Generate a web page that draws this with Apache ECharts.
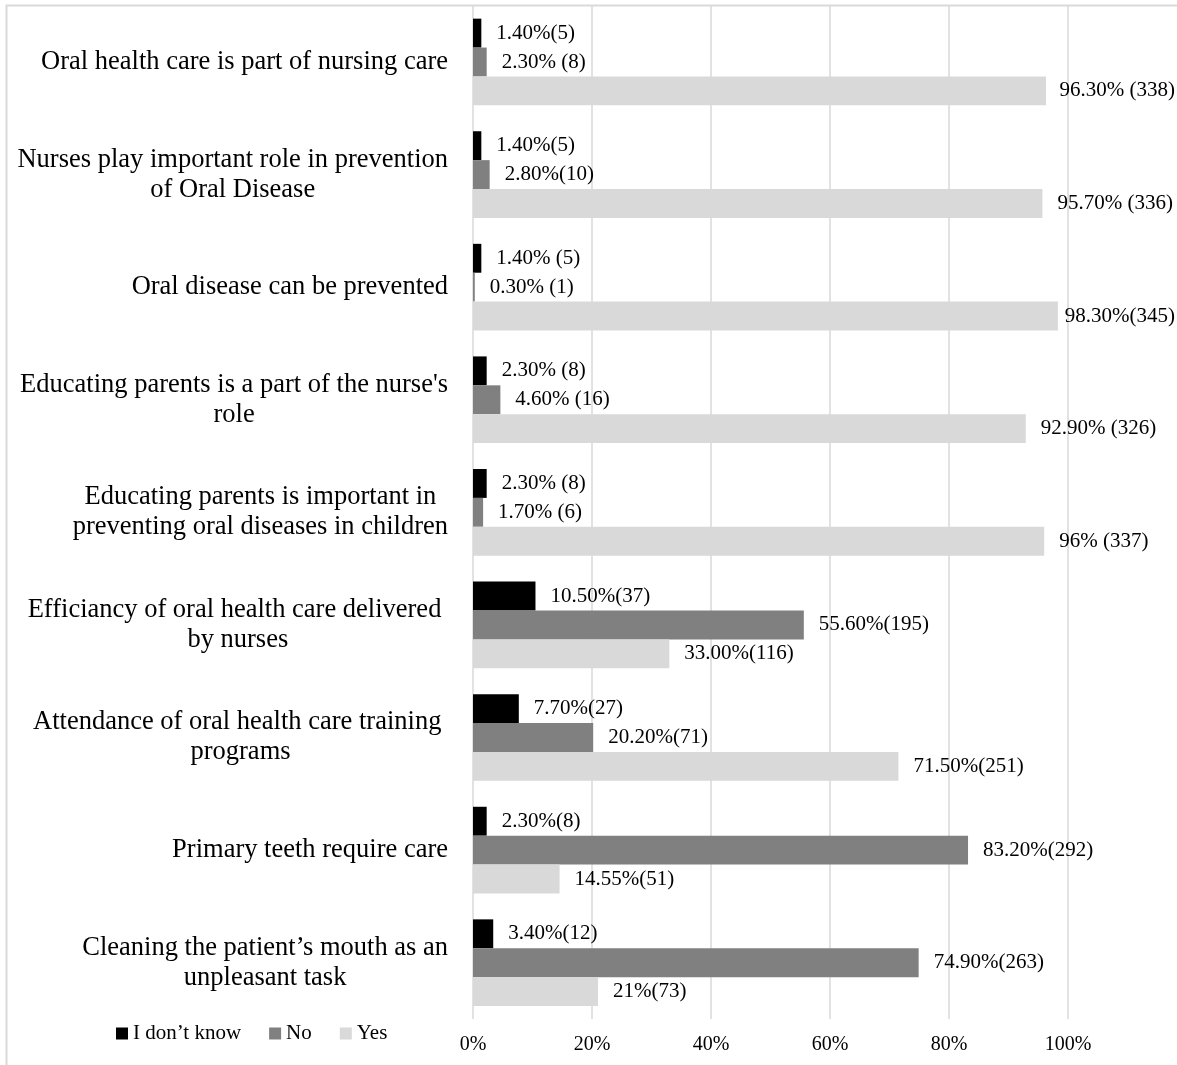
<!DOCTYPE html>
<html>
<head>
<meta charset="utf-8">
<script src="https://cdn.jsdelivr.net/npm/echarts@6/dist/echarts.min.js"></script>
<style>
html,body{margin:0;padding:0;background:#fff;}
#chart{width:1177px;height:1065px;}
</style>
</head>
<body>
<div id="chart"></div>
<script>
const categories = [
  "Oral health care is part of nursing care",
  "Nurses play important role in prevention\nof Oral Disease",
  "Oral disease can be prevented",
  "Educating parents is a part of the nurse's\nrole",
  "Educating parents is important in\npreventing oral diseases in children",
  "Efficiancy of oral health care delivered \nby nurses",
  "Attendance of oral health care training \nprograms",
  "Primary teeth require care",
  "Cleaning the patient\u2019s mouth as an\nunpleasant task"
];
const seriesNames = ["I don\u2019t know", "No", "Yes"];
const dontKnow = [1.4, 1.4, 1.4, 2.3, 2.3, 10.5, 7.7, 2.3, 3.4];
const no = [2.3, 2.8, 0.3, 4.6, 1.7, 55.6, 20.2, 83.2, 74.9];
const yes = [96.3, 95.7, 98.3, 92.9, 96, 33.0, 71.5, 14.55, 21];
const dontKnowLabels = ["1.40%(5)", "1.40%(5)", "1.40% (5)", "2.30% (8)", "2.30% (8)", "10.50%(37)", "7.70%(27)", "2.30%(8)", "3.40%(12)"];
const noLabels = ["2.30% (8)", "2.80%(10)", "0.30% (1)", "4.60% (16)", "1.70% (6)", "55.60%(195)", "20.20%(71)", "83.20%(292)", "74.90%(263)"];
const yesLabels = ["96.30% (338)", "95.70% (336)", "98.30%(345)", "92.90% (326)", "96% (337)", "33.00%(116)", "71.50%(251)", "14.55%(51)", "21%(73)"];
const xTicks = [0, 20, 40, 60, 80, 100];

const FONT = "'Liberation Serif', 'DejaVu Serif', serif";
const colors = ["#000000", "#808080", "#d9d9d9"];

function mkSeries(name, values, labels, color) {
  return {
    name: name,
    type: "bar",
    data: values,
    barGap: "0%",
    barCategoryGap: "23%",
    itemStyle: { color: color },
    label: {
      show: true,
      position: "right",
      distance: 15,
      color: "#000",
      fontFamily: FONT,
      fontSize: 21,
      offset: [0, 1],
      formatter: function (p) { return labels[p.dataIndex]; }
    },
    labelLayout: function (p) {
      const over = p.labelRect.x + p.labelRect.width - 1175;
      return over > 0 ? { dx: -over } : {};
    }
  };
}

const chart = echarts.init(document.getElementById("chart"), null, { renderer: "canvas" });
chart.setOption({
  animation: false,
  backgroundColor: "#ffffff",
  textStyle: { fontFamily: FONT, color: "#000" },
  graphic: [{
    type: "rect",
    shape: { x: 6.5, y: 5.5, width: 1300, height: 1200 },
    style: { fill: null, stroke: "#d9d9d9", lineWidth: 2 },
    silent: true,
    z: -10
  }],
  legend: {
    data: seriesNames,
    left: 116,
    top: 1023,
    padding: 0,
    icon: "rect",
    itemWidth: 12,
    itemHeight: 12,
    itemGap: 28,
    textStyle: { fontFamily: FONT, fontSize: 21, color: "#000" }
  },
  grid: { left: 473, right: 109, top: 5.7, bottom: 46, containLabel: false },
  xAxis: {
    type: "value",
    min: xTicks[0],
    max: xTicks[xTicks.length - 1],
    interval: 20,
    axisLine: { show: false },
    axisTick: { show: false },
    splitLine: { show: true, lineStyle: { color: "#d9d9d9", width: 1.5 } },
    axisLabel: {
      margin: 16,
      fontFamily: FONT,
      fontSize: 20,
      color: "#000",
      formatter: "{value}%"
    }
  },
  yAxis: {
    type: "category",
    data: categories,
    inverse: true,
    axisLine: { show: false },
    axisTick: { show: false },
    splitLine: { show: false },
    axisLabel: {
      margin: 25,
      interval: 0,
      color: "#000",
      fontFamily: FONT,
      fontSize: 26.5,
      lineHeight: 30,
      formatter: function (v) {
        return v.split("\n").map(function (l) { return "{c|" + l + "}"; }).join("\n");
      },
      rich: {
        c: { align: "center", fontFamily: FONT, fontSize: 26.5, lineHeight: 30, color: "#000" }
      }
    }
  },
  series: [
    mkSeries(seriesNames[0], dontKnow, dontKnowLabels, colors[0]),
    mkSeries(seriesNames[1], no, noLabels, colors[1]),
    mkSeries(seriesNames[2], yes, yesLabels, colors[2])
  ]
});
</script>
</body>
</html>
